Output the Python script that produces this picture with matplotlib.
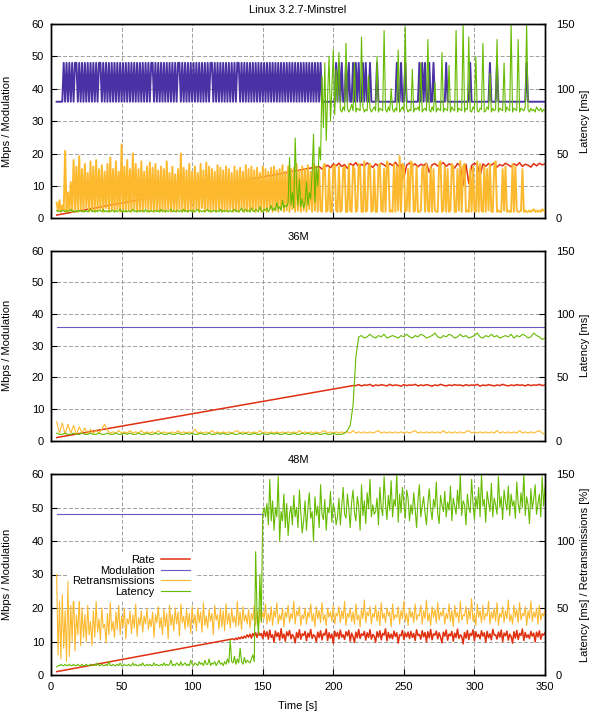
"""
Three stacked throughput panels (Minstrel / fixed 36M / fixed 48M):
rate + modulation on the left axis, retransmissions + latency on the right.
"""

import matplotlib
matplotlib.use("Agg")  # headless
import matplotlib.pyplot as plt
import numpy as np

# ---------------------------------------------------------------------------
# Data
#   T1: 1 s samples, T2: 2 s samples, both from t=4 to t=350
# ---------------------------------------------------------------------------
T1 = np.arange(4, 351, 1)
T2 = np.arange(4, 351, 2)

# --- Linux 3.2.7-Minstrel (1 s samples) -----------------------------------
# modulation: '1' -> 48M, '0' -> 36M
mod1_flags = (
    "00000" "10101" "01011" "01010" "10101" "01010" "11010" "10101" "01010" "10101"   # t4-53
    "01010" "10101" "01010" "10110" "10101" "01010" "10101" "01101" "01010" "10101"   # t54-103
    "01010" "10101" "10101" "01010" "10101" "01011" "01010" "10101" "01010" "10101"   # t104-153
    "01010" "10101" "01010" "10101" "01010" "10101" "01010" "1010" "00000000" "010"  # t154-203
    "10100" "10100" "10101" "00101" "001" "0000100000000000001001001" "00"            # t204-253
    "0000000101" "0100100100" "0000001000" "0000000000" "0001000000"                  # t254-303
    "0000000100" "0010000000" "0000000000" "0001000000" "0000000"                     # t304-350
)
rate1_ramp_t = [4, 190]
rate1_ramp_v = [1.0, 16.0]
rate1_flat = [  # t = 192..350, 2 s samples
    15.2, 15.8, 16.4, 15.6, 16.8, 16.2, 17.0, 16.0, 16.6, 15.4,
    16.9, 16.3, 17.2, 15.9, 16.7, 16.1, 17.1, 16.4, 15.7, 16.8,
    16.2, 17.0, 16.5, 15.8, 16.9, 16.3, 17.3, 16.0, 16.6, 12.5,
    16.4, 17.1, 16.2, 16.8, 15.9, 16.7, 16.3, 17.0, 14.2, 16.5,
    16.9, 16.1, 16.6, 17.2, 16.0, 16.8, 16.4, 15.5, 16.9, 16.2,
    10.2, 16.7, 10.8, 16.3, 17.0, 16.5, 13.2, 16.8, 16.1, 16.9,
    16.4, 17.1, 15.8, 16.6, 16.2, 17.0, 16.5, 15.9, 16.8, 16.3,
    17.2, 16.0, 16.7, 16.4, 15.8, 16.9, 16.2, 17.0, 16.5, 16.8,
]
retr1 = [  # %
    12, 6, 14, 5, 10, 6, 52, 5, 20, 6, 28, 5, 45, 7, 40, 5, 48, 6, 38, 5, 42, 8, 35, 5, 44,
    6, 40, 5, 45, 6, 38, 7, 41, 5, 36, 8, 42, 5, 47, 6, 38, 5, 44, 7, 36, 5, 57, 6, 40, 5,
    45, 6, 38, 5, 50, 7, 42, 5, 38, 6, 44, 5, 36, 8, 40, 5, 43, 6, 39, 5, 42, 6, 37, 5, 40,
    6, 38, 5, 44, 7, 35, 5, 40, 6, 34, 5, 38, 7, 50, 5, 39, 6, 37, 5, 42, 6, 36, 5, 40, 7,
    35, 5, 42, 8, 37, 5, 43, 6, 40, 5, 38, 6, 36, 5, 41, 7, 39, 5, 37, 6, 40, 5, 38, 7, 35,
    5, 40, 6, 37, 5, 39, 7, 36, 5, 41, 6, 38, 5, 40, 6, 37, 5, 39, 7, 35, 5, 40, 6, 38, 5,
    36, 7, 39, 5, 40, 6, 37, 5, 38, 7, 41, 5, 36, 6, 40, 5, 38, 7, 39, 5, 42, 6, 37, 5, 40,
    6, 38, 5, 41, 7, 36, 5, 42, 6, 40, 5, 38, 6, 5, 40, 42, 5, 6, 38, 5, 5, 40, 41, 6, 5,
    40, 5, 6, 38, 40, 5, 5, 42, 6, 5, 40, 38, 5, 6, 42, 40, 5, 5, 44, 5, 6, 40, 42, 5, 6,
    38, 5, 5, 40, 42, 6, 5, 38, 5, 44, 40, 5, 6, 5, 42, 5, 40, 6, 48, 5, 42, 40, 5, 6, 38,
    5, 44, 42, 5, 6, 40, 5, 5, 6, 38, 40, 5, 42, 6, 5, 40, 5, 38, 6, 5, 5, 42, 44, 5, 6,
    40, 5, 38, 5, 6, 42, 40, 5, 5, 38, 6, 44, 5, 40, 42, 5, 6, 5, 38, 5, 40, 6, 5, 44, 5,
    42, 6, 5, 40, 5, 38, 6, 42, 5, 5, 40, 44, 5, 6, 5, 5, 38, 6, 40, 5, 6, 5, 5, 42, 5,
    40, 6, 5, 5, 6, 38, 5, 6, 5, 5, 6, 5, 6, 7, 5, 6, 5, 6, 5, 7, 6, 5,
]
lat1 = [  # ms
    6, 5, 6, 5, 6, 6, 5, 6, 5, 6, 7, 5, 6, 5, 6, 5, 6, 6, 5, 6, 5, 6, 5, 6, 7,
    5, 6, 5, 6, 5, 6, 6, 5, 7, 5, 6, 5, 6, 5, 6, 6, 5, 6, 5, 6, 7, 5, 6, 5, 6,
    5, 6, 5, 6, 7, 5, 6, 5, 6, 5, 6, 6, 5, 7, 5, 6, 5, 6, 5, 6, 6, 5, 6, 5, 7,
    5, 6, 5, 6, 5, 6, 7, 5, 6, 5, 6, 6, 5, 6, 5, 7, 5, 6, 5, 6, 6, 5, 6, 5, 6,
    7, 5, 6, 5, 6, 5, 6, 7, 5, 6, 5, 6, 6, 5, 6, 5, 7, 5, 6, 5, 6, 6, 5, 6, 5,
    6, 7, 5, 6, 5, 6, 8, 5, 6, 7, 5, 6, 5, 8, 6, 5, 7, 6, 5, 9, 6, 5, 7, 6, 8,
    5, 7, 10, 6, 8, 6, 12, 7, 9, 6, 14, 8, 10, 9, 12, 47, 10, 20, 8, 62, 25, 10, 30, 9, 15,
    8, 12, 28, 10, 20, 15, 35, 65, 12, 40, 25, 55, 45, 110, 70, 120, 60, 95, 125, 75, 100, 130, 80, 115, 90,
    128, 84, 82, 86, 83, 135, 85, 82, 84, 88, 83, 120, 82, 85, 84, 83, 140, 86, 82, 84, 83, 110, 85, 82, 84,
    86, 83, 125, 82, 85, 84, 83, 145, 84, 82, 86, 83, 100, 84, 82, 85, 83, 130, 82, 84, 86, 83, 148, 85, 82,
    84, 83, 115, 82, 85, 84, 86, 83, 120, 82, 84, 85, 83, 138, 84, 82, 86, 83, 105, 82, 85, 84, 83, 128, 82,
    85, 84, 83, 118, 82, 86, 84, 83, 145, 82, 85, 84, 83, 150, 82, 85, 84, 140, 83, 82, 86, 84, 125, 83, 82,
    85, 84, 135, 82, 83, 86, 84, 112, 82, 85, 83, 84, 138, 82, 85, 84, 83, 120, 82, 86, 84, 83, 150, 82, 85,
    84, 83, 138, 82, 85, 84, 83, 86, 150, 84, 82, 85, 83, 84, 82, 86, 84, 83, 85, 82, 84, 83,
]

# --- 36M (2 s samples) ----------------------------------------------------
mod2_t = [4, 350]
mod2_v = [36, 36]
rate2_ramp_t = [4, 214]
rate2_ramp_v = [1.0, 17.4]
rate2_flat = [  # t = 216..350
    17.4, 17.7, 17.3, 17.6, 17.5, 17.8, 17.2, 17.6, 17.4, 17.7,
    17.5, 17.3, 17.8, 17.4, 17.6, 17.5, 17.2, 17.7, 17.4, 17.6,
    17.5, 17.8, 17.3, 17.6, 17.4, 17.7, 17.5, 17.2, 17.6, 17.4,
    17.8, 17.5, 17.3, 17.6, 17.4, 17.7, 17.5, 17.6, 17.3, 17.7,
    17.4, 17.6, 17.5, 17.8, 17.2, 17.6, 17.4, 17.7, 17.5, 17.3,
    17.6, 17.4, 17.8, 17.5, 17.3, 17.6, 17.4, 17.7, 17.5, 17.6,
    17.3, 17.7, 17.4, 17.6, 17.5, 17.8, 17.4, 17.6,
]
retr2 = [
    15, 6, 14, 5, 13, 6, 12, 5, 11, 6, 10, 5, 9, 6, 8, 6, 9, 13, 8, 6,
    7, 6, 8, 6, 7, 6, 8, 6, 7, 6, 8, 6, 7, 6, 7, 6, 8, 6, 7, 6,
    6, 7, 6, 8, 6, 7, 6, 7, 6, 9, 6, 7, 6, 7, 6, 8, 6, 7, 6, 7,
    6, 7, 6, 7, 8, 6, 7, 6, 7, 6, 7, 6, 8, 6, 7, 6, 7, 6, 7, 6,
    7, 6, 7, 6, 7, 6, 8, 6, 7, 6, 7, 6, 7, 6, 7, 8, 6, 7, 6, 7,
    6, 7, 6, 7, 6, 8, 6, 7, 6, 7, 6, 7, 6, 7, 8, 6, 7, 6, 7, 6,
    7, 6, 7, 6, 7, 6, 7, 8, 6, 7, 6, 7, 6, 7, 6, 7, 6, 8, 6, 7,
    6, 7, 6, 7, 6, 7, 8, 6, 7, 6, 7, 6, 7, 6, 7, 6, 8, 6, 7, 6,
    7, 6, 7, 6, 8, 6, 7, 6, 7, 6, 7, 8, 6, 5,
]
lat2 = [
    6, 5, 5, 6, 5, 5, 6, 5, 5, 6, 5, 5, 6, 5, 5, 6, 5, 5, 6, 5,
    5, 6, 5, 5, 6, 5, 6, 5, 5, 6, 5, 5, 6, 5, 5, 6, 5, 6, 5, 5,
    6, 5, 5, 6, 5, 5, 6, 5, 6, 5, 5, 6, 5, 5, 6, 5, 5, 6, 5, 6,
    5, 5, 6, 5, 5, 6, 5, 6, 5, 5, 6, 5, 5, 6, 5, 5, 6, 5, 6, 5,
    5, 6, 5, 5, 6, 5, 5, 6, 5, 6, 5, 5, 6, 5, 5, 6, 5, 5, 6, 5,
    5, 5, 6, 8, 12, 28, 66, 82, 83, 81, 82, 84, 82, 81, 83, 82, 84, 81, 82, 83,
    82, 81, 83, 82, 84, 82, 81, 83, 82, 84, 83, 81, 82, 83, 85, 82, 81, 83, 82, 84,
    83, 81, 82, 84, 82, 83, 81, 82, 83, 85, 82, 81, 83, 82, 84, 82, 83, 81, 82, 83,
    82, 84, 81, 83, 82, 84, 83, 81, 82, 85, 83, 82, 80, 81,
]

# --- 48M (1 s samples) ----------------------------------------------------
mod3_t = [4, 150]
mod3_v = [48, 48]
rate3_ramp_t = [4, 129]
rate3_ramp_v = [1.0, 10.8]
rate3_flat = [  # t = 130..350
    10.5, 11.0, 10.6, 11.2, 10.8, 11.4, 10.9, 11.6, 11.1, 12.0, 11.3, 12.2, 11.0, 12.4, 11.6, 12.6, 11.2, 12.8, 11.8, 12.4, 10.9, 13.2, 11.5, 12.9, 10.7,
    13.4, 11.2, 12.0, 9.8, 13.1, 11.5, 12.6, 10.4, 13.8, 11.0, 12.2, 10.1, 12.9, 11.7, 13.3, 10.8, 12.1, 11.4, 9.6, 12.7, 11.1, 13.5, 10.7, 12.3, 11.8,
    13.0, 10.2, 12.5, 11.3, 13.6, 10.9, 12.0, 11.6, 9.9, 12.8, 11.2, 13.2, 10.5, 12.4, 11.9, 13.7, 10.3, 12.6, 11.0, 12.2, 9.4, 13.1, 11.5, 12.7, 10.8,
    13.4, 11.3, 12.0, 10.6, 12.9, 11.7, 13.3, 10.1, 12.5, 11.4, 9.7, 12.8, 11.1, 13.6, 10.9, 12.3, 11.8, 13.0, 10.4, 12.6, 11.2, 13.5, 10.7, 12.1, 11.6,
    9.8, 12.9, 11.3, 13.2, 10.5, 12.4, 11.9, 13.8, 10.2, 12.7, 11.0, 12.2, 10.8, 13.1, 11.5, 12.6, 9.5, 12.0, 11.7, 13.3, 10.6, 12.5, 11.4, 12.8, 10.9,
    13.0, 11.2, 12.4, 10.3, 13.5, 11.8, 12.1, 10.7, 13.2, 11.4, 12.7, 9.9, 12.9, 11.1, 13.6, 10.5, 12.3, 11.9, 13.1, 10.8, 12.6, 11.3, 9.6, 12.8, 11.6,
    13.4, 10.4, 12.2, 11.7, 13.0, 10.1, 12.5, 11.2, 13.7, 10.9, 12.0, 11.5, 9.3, 12.7, 11.0, 13.3, 10.6, 12.4, 11.8, 13.5, 10.2, 12.9, 11.4, 12.1, 10.8,
    13.2, 11.6, 12.6, 9.8, 13.0, 11.1, 12.3, 10.5, 13.6, 11.9, 12.0, 10.7, 12.8, 11.3, 13.4, 10.0, 12.5, 11.7, 13.1, 10.4, 12.2, 11.5, 9.5, 12.9, 11.0,
    13.3, 10.6, 12.4, 11.8, 13.7, 10.3, 12.7, 11.2, 12.0, 10.9, 13.0, 11.6, 12.5, 9.9, 12.8, 11.4, 13.2, 10.7, 12.3, 11.9, 12.6,
]
retr3 = [
    75, 15, 55, 12, 60, 20, 48, 10, 70, 14, 52, 25, 65, 18, 45, 30, 58, 22, 50, 28, 45, 25, 52, 30, 40,
    22, 48, 28, 55, 32, 42, 26, 50, 35, 38, 24, 46, 30, 54, 33, 40, 28, 47, 34, 52, 30, 44, 36, 50, 27,
    42, 38, 48, 31, 45, 35, 53, 29, 43, 37, 48, 32, 44, 38, 50, 34, 42, 36, 47, 28, 45, 39, 51, 35, 43,
    30, 49, 36, 46, 27, 52, 37, 45, 33, 50, 38, 47, 29, 53, 39, 44, 34, 49, 36, 46, 31, 51, 38, 45, 33,
    50, 39, 47, 32, 54, 37, 44, 35, 49, 40, 46, 30, 52, 41, 45, 34, 50, 36, 48, 33, 53, 38, 46, 35, 50,
    39, 44, 36, 55, 37, 47, 34, 51, 40, 45, 38, 49, 35, 46, 41, 52, 37, 48, 36, 50, 39, 47, 42, 53, 38,
    46, 40, 51, 37, 48, 43, 54, 38, 45, 41, 50, 36, 47, 43, 52, 39, 46, 42, 55, 38, 48, 44, 51, 37, 45,
    42, 50, 38, 47, 43, 53, 40, 46, 36, 51, 42, 48, 39, 54, 41, 45, 37, 50, 43, 47, 40, 52, 38, 46, 44,
    51, 39, 48, 42, 55, 37, 46, 43, 50, 40, 47, 38, 53, 41, 45, 36, 49, 42, 56, 39, 47, 44, 51, 38, 46,
    43, 52, 40, 48, 37, 54, 42, 46, 39, 50, 44, 47, 36, 53, 41, 45, 43, 51, 38, 48, 42, 55, 40, 46, 37,
    50, 43, 47, 39, 53, 41, 45, 44, 52, 38, 48, 42, 56, 40, 46, 37, 51, 43, 49, 39, 54, 41, 47, 44, 50,
    38, 46, 42, 53, 40, 48, 36, 52, 43, 47, 39, 55, 41, 45, 44, 51, 38, 49, 42, 57, 40, 46, 37, 53, 43,
    48, 39, 52, 41, 46, 44, 55, 38, 47, 42, 50, 40, 54, 37, 46, 43, 51, 39, 48, 42, 56, 40, 45, 38, 52,
    43, 49, 39, 54, 41, 46, 44, 51, 37, 48, 42, 55, 40, 47, 43, 50, 38, 52, 41, 46, 44, 49,
]
lat3 = [
    6, 7, 7, 8, 7, 7, 8, 7, 7, 8, 7, 7, 8, 7, 7, 8, 7, 7, 8, 7, 7, 8, 7, 7, 8,
    7, 7, 8, 7, 9, 7, 7, 8, 7, 7, 8, 7, 10, 7, 7, 8, 7, 7, 8, 7, 9, 7, 7, 8, 7,
    7, 8, 7, 7, 9, 7, 8, 7, 7, 8, 7, 9, 7, 7, 8, 7, 8, 7, 7, 9, 7, 8, 7, 7, 8,
    7, 9, 7, 8, 7, 8, 11, 7, 8, 7, 9, 8, 7, 10, 7, 8, 9, 7, 8, 7, 11, 8, 7, 9, 8,
    7, 10, 8, 9, 7, 11, 8, 8, 12, 7, 9, 8, 10, 7, 9, 11, 8, 9, 7, 10, 8, 12, 9, 26, 10,
    9, 14, 8, 12, 9, 20, 10, 8, 13, 9, 11, 10, 9, 12, 15, 10, 92, 45, 30, 75, 40, 120, 125, 118, 128,
    112, 146, 115, 130, 108, 125, 118, 148, 100, 122, 115, 135, 110, 128, 104, 120, 126, 112, 134, 118, 125, 110, 138, 121, 106,
    115, 130, 108, 124, 136, 117, 122, 100, 133, 119, 126, 110, 142, 120, 116, 131, 108, 125, 121, 137, 114, 128, 123, 112, 118,
    132, 112, 126, 140, 120, 117, 135, 124, 110, 129, 138, 121, 115, 133, 126, 108, 142, 119, 130, 113, 136, 124, 146, 118, 127,
    120, 122, 132, 112, 140, 125, 119, 148, 128, 116, 134, 123, 145, 118, 131, 126, 150, 114, 135, 121, 140, 128, 117, 138, 132,
    115, 127, 120, 136, 124, 110, 130, 142, 118, 126, 133, 121, 112, 128, 139, 124, 116, 131, 125, 144, 120, 113, 134, 127, 122,
    137, 118, 129, 123, 141, 115, 132, 126, 120, 138, 124, 150, 119, 130, 127, 112, 135, 125, 121, 146, 128, 116, 133, 124, 140,
    118, 150, 126, 131, 114, 137, 129, 122, 143, 118, 132, 127, 120, 148, 125, 133, 116, 138, 129, 123, 141, 119, 135, 126, 130,
    117, 144, 128, 121, 136, 125, 150, 119, 133, 127, 113, 139, 124, 131, 142, 120, 128, 135, 118, 148, 126, 140,
]

TITLES = ["Linux 3.2.7-Minstrel", "36M", "48M"]
Y2_LABELS = ["Latency [ms]", "Latency [ms]", "Latency [ms] / Retransmissions [%]"]

# ---------------------------------------------------------------------------
# Style
# ---------------------------------------------------------------------------
C_RATE, C_RETR, C_LAT = "#e03010", "#fdb92e", "#66bb00"
C_MOD_DENSE, C_MOD_THIN = "#4b32a4", "#6a58c0"  # thin single line reads lighter
LW = 0.8
LW_DENSE = 1.4  # panel 1 flips every sample, thicker strokes fill it in
plt.rcParams["font.family"] = ["Liberation Sans", "DejaVu Sans"]
plt.rcParams["font.size"] = 8

W, H = 592, 711
BOXES = [(24, 218.3), (250.7, 440.7), (474, 675)]  # (top, bottom) px
LEFT, RIGHT = 51, 545


def series(ramp_t, ramp_v, flat_v, base):
    """Straight ramp segment followed by sampled values at the end of `base`."""
    flat_t = base[len(base) - len(flat_v):]
    return np.concatenate([ramp_t, flat_t]), np.concatenate([ramp_v, flat_v])


panels = [
    dict(mod=(T1, [36 + 12 * int(c) for c in mod1_flags]),
         rate=series(rate1_ramp_t, rate1_ramp_v, rate1_flat, T2),
         retr=(T1, retr1), lat=(T1, lat1), lw=LW_DENSE, mod_color=C_MOD_DENSE),
    dict(mod=(mod2_t, mod2_v),
         rate=series(rate2_ramp_t, rate2_ramp_v, rate2_flat, T2),
         retr=(T2, retr2), lat=(T2, lat2), lw=LW, mod_color=C_MOD_THIN),
    dict(mod=(mod3_t, mod3_v),
         rate=series(rate3_ramp_t, rate3_ramp_v, rate3_flat, T1),
         retr=(T1, retr3), lat=(T1, lat3), lw=LW, mod_color=C_MOD_THIN),
]

fig = plt.figure(figsize=(W / 100, H / 100), dpi=100)

for k, p in enumerate(panels):
    top, bot = BOXES[k]
    ax = fig.add_axes([LEFT / W, 1 - bot / H, (RIGHT - LEFT) / W, (bot - top) / H])
    ax2 = ax.twinx()

    h_rate, = ax.plot(*p["rate"], color=C_RATE, lw=1.1, label="Rate")
    h_mod, = ax.plot(*p["mod"], color=p["mod_color"], lw=p["lw"], label="Modulation")
    h_retr, = ax2.plot(*p["retr"], color=C_RETR, lw=p["lw"], label="Retransmissions")
    h_lat, = ax2.plot(*p["lat"], color=C_LAT, lw=LW, label="Latency")

    ax.set_xlim(0, 350)
    ax.set_ylim(0, 60)
    ax2.set_ylim(0, 150)
    ax.set_xticks(range(0, 351, 50))
    ax.set_yticks(range(0, 61, 10))
    ax2.set_yticks(range(0, 151, 50))
    ax.grid(True, color="#a0a0a0", lw=0.7, linestyle=(0, (4, 2)))

    ax.tick_params(direction="in", length=4, width=0.8, pad=5, labelsize=8)
    ax2.tick_params(direction="in", length=4, width=0.8, pad=8, labelsize=8)
    if k < 2:
        ax.tick_params(labelbottom=False)
    for a in (ax, ax2):
        for s in a.spines.values():
            s.set_linewidth(1.0)

    ax.set_title(TITLES[k], fontsize=8, pad=8)
    ax.set_ylabel("Mbps / Modulation", fontsize=8)
    ax.yaxis.set_label_coords(-0.079, 0.5)
    ax2.set_ylabel(Y2_LABELS[k], fontsize=8, rotation=90, va="center")
    ax2.yaxis.set_label_coords(1.081, 0.5)

    if k == 2:
        ax.set_xlabel("Time [s]", fontsize=8)
        ax.xaxis.set_label_coords(0.5, -0.128)
        ax2.legend([h_rate, h_mod, h_retr, h_lat],
                   ["Rate", "Modulation", "Retransmissions", "Latency"],
                   loc="upper right", bbox_to_anchor=(0.30, 0.64),
                   markerfirst=False, frameon=True, fancybox=False,
                   framealpha=1, edgecolor="white", fontsize=8,
                   handlelength=2.6, handletextpad=0.6,
                   labelspacing=0.05, borderpad=0.3)

fig.savefig("out.png", dpi=100)
